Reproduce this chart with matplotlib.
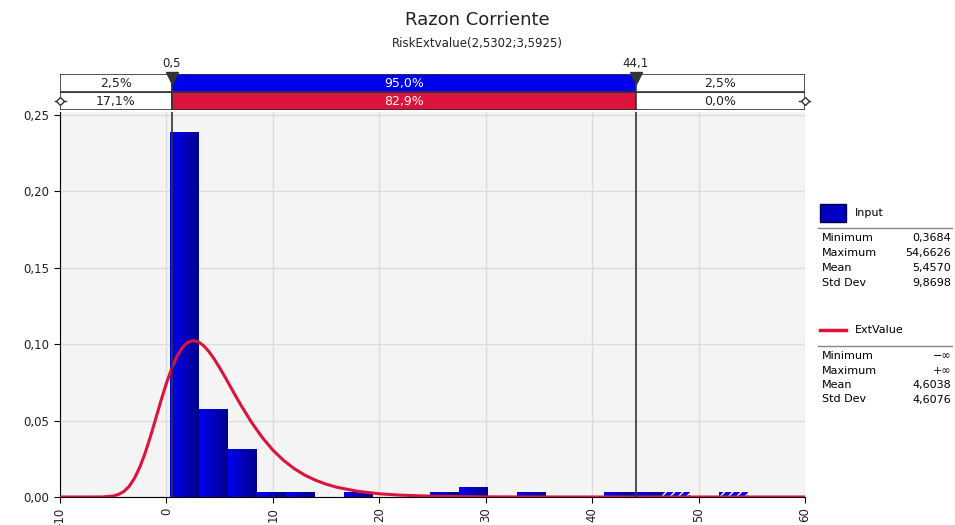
import numpy as np
import matplotlib.pyplot as plt
from matplotlib.patches import Rectangle
from matplotlib.lines import Line2D
from matplotlib.colors import LinearSegmentedColormap

# histogram of the input (density per bin)
bin_edges = [0.3684, 3.0831, 5.7978, 8.5125, 11.2272, 13.9419, 16.6566, 19.3713,
             22.0860, 24.8007, 27.5154, 30.2301, 32.9448, 35.6595, 38.3742,
             41.0889, 43.8036, 46.5183, 49.2330, 51.9477, 54.6626]
bin_density = [0.2386, 0.0576, 0.0316, 0.0035, 0.0035, 0.0, 0.0035, 0.0,
               0.0, 0.0035, 0.0068, 0.0, 0.0035, 0.0, 0.0,
               0.0035, 0.0035, 0.0035, 0.0, 0.0035]

# ExtValue curve
curve_x = [-10, -8, -7, -6, -5, -4.5, -4, -3.5, -3, -2.5, -2, -1.5, -1, -0.5, 0, 0.5,
           1, 1.5, 2, 2.5, 3, 3.5, 4, 4.5, 5, 5.5, 6, 6.5, 7, 8, 9,
           10, 11, 12, 13, 14, 15, 16, 18, 20, 22, 25, 30, 35, 40, 50, 60]
curve_y = [0.0, 0.0, 0.00001, 0.00006, 0.00066, 0.0017, 0.0036, 0.0070, 0.0123,
           0.0195, 0.0288, 0.0396, 0.0514, 0.0633, 0.0745, 0.0843, 0.0922, 0.0979,
           0.1012, 0.1024, 0.1016, 0.0990, 0.0951, 0.0902, 0.0846, 0.0786, 0.0724,
           0.0662, 0.0601, 0.0488, 0.0390, 0.0307, 0.0240, 0.0186, 0.0143, 0.0110,
           0.0084, 0.0064, 0.0037, 0.0021, 0.0012, 0.0005, 0.0001, 0.0, 0.0, 0.0, 0.0]

left_cut, right_cut = 0.5, 44.1
row1 = ['2,5%', '95,0%', '2,5%']
row2 = ['17,1%', '82,9%', '0,0%']
input_stats = [('Minimum', '0,3684'), ('Maximum', '54,6626'), ('Mean', '5,4570'), ('Std Dev', '9,8698')]
ext_stats = [('Minimum', '\u2212\u221e'), ('Maximum', '+\u221e'), ('Mean', '4,6038'), ('Std Dev', '4,6076')]

BLUE = '#0000ee'
RED = '#dc143c'
W, H = 955, 525

fig = plt.figure(figsize=(9.55, 5.25), dpi=100)
plt.rcParams['font.family'] = 'DejaVu Sans'

def px(x0, y0, x1, y1):
    return [x0 / W, 1 - y1 / H, (x1 - x0) / W, (y1 - y0) / H]

ax = fig.add_axes(px(60, 112, 805, 497))
ax.set_facecolor('#f4f4f4')
yt = np.arange(0, 0.26, 0.05)
xt = np.arange(-10, 61, 10)
ax.set_xticks(xt)
ax.set_yticks(yt)
ax.set_yticklabels([('%.2f' % v).replace('.', ',') for v in yt])
ax.set_xticklabels([str(int(v)) for v in xt], rotation=90, va='top')
ax.tick_params(labelsize=8.5, length=4, color='black', direction='out', labelcolor='#222222')
ax.grid(True, color='#dcdcdc', lw=1)
ax.set_axisbelow(True)
for s in ['top', 'right']:
    ax.spines[s].set_visible(False)

grad = np.linspace(0, 1, 50).reshape(1, -1)
cmap = LinearSegmentedColormap.from_list('bl', ['#0000f2', '#00008c'])
for i, d in enumerate(bin_density):
    if d <= 0:
        continue
    lo, hi = bin_edges[i], bin_edges[i + 1]
    if lo >= right_cut:
        ax.bar(lo, d, width=hi - lo, align='edge', color=BLUE, hatch='////',
               edgecolor='white', lw=0, zorder=2)
        continue
    b = ax.bar(lo, d, width=hi - lo, align='edge', color='none', lw=0, zorder=2)[0]
    im = ax.imshow(grad, extent=[lo, hi, 0, d], cmap=cmap, aspect='auto', zorder=2)
    im.set_clip_path(b)
ax.set_xlim(-10, 60)
ax.set_ylim(0, 0.252)

ax.plot(curve_x, curve_y, color=RED, lw=2.2, zorder=3)
for c in (left_cut, right_cut):
    ax.axvline(c, color='#333333', lw=1.2, zorder=4)

# header boxes
hx = fig.add_axes(px(60, 74, 805, 110))
hx.set_xlim(-10, 60)
hx.set_ylim(0, 2)
hx.axis('off')
segs = [(-10, left_cut), (left_cut, right_cut), (right_cut, 60)]
for row, (labels, mid) in enumerate([(row2, RED), (row1, BLUE)]):
    for j, (a, b) in enumerate(segs):
        fc = mid if j == 1 else 'white'
        hx.add_patch(Rectangle((a, row), b - a, 1, facecolor=fc, edgecolor='#333333', lw=1.2))
        hx.text((a + b) / 2, row + 0.5, labels[j], ha='center', va='center', fontsize=9,
                color='white' if j == 1 else '#222222')
for c, lab in [(left_cut, '0,5'), (right_cut, '44,1')]:
    hx.plot(c, 1.8, marker='v', color='#333333', ms=8, clip_on=False)
    hx.text(c, 2.25, lab, ha='center', va='bottom', fontsize=8.5, color='#222222')
hx.plot([-10.5, -9.4], [0.5, 0.5], color='#333333', lw=1, clip_on=False)
hx.plot(-10, 0.5, marker='D', ms=4, mfc='white', mec='#333333', clip_on=False)
hx.plot([59.4, 60.5], [0.5, 0.5], color='#333333', lw=1, clip_on=False)
hx.plot(60, 0.5, marker='D', ms=4, mfc='white', mec='#333333', clip_on=False)

fig.text(0.5, 1 - 20 / H, 'Razon Corriente', ha='center', va='center', fontsize=13, color='#222222')
fig.text(0.5, 1 - 43 / H, 'RiskExtvalue(2,5302;3,5925)', ha='center', va='center', fontsize=8.5, color='#222222')

# legend panel
fig.patches.append(Rectangle((820 / W, 1 - 222 / H), 26 / W, 18 / H, transform=fig.transFigure,
                             facecolor='#0000c0', edgecolor='#000044', lw=1))
fig.text(855 / W, 1 - 213 / H, 'Input', fontsize=8, va='center')
fig.lines.append(Line2D([818 / W, 952 / W], [1 - 228 / H] * 2, transform=fig.transFigure, color='#888888', lw=1))
for k, (lab, val) in enumerate(input_stats):
    y = 1 - (238 + 15 * k) / H
    fig.text(822 / W, y, lab, fontsize=8, va='center')
    fig.text(951 / W, y, val, fontsize=8, va='center', ha='right')
fig.lines.append(Line2D([820 / W, 846 / W], [1 - 330 / H] * 2, transform=fig.transFigure, color=RED, lw=2.5))
fig.text(855 / W, 1 - 330 / H, 'ExtValue', fontsize=8, va='center')
fig.lines.append(Line2D([818 / W, 952 / W], [1 - 346 / H] * 2, transform=fig.transFigure, color='#888888', lw=1))
for k, (lab, val) in enumerate(ext_stats):
    y = 1 - (356 + 14.5 * k) / H
    fig.text(822 / W, y, lab, fontsize=8, va='center')
    fig.text(951 / W, y, val, fontsize=8, va='center', ha='right')

fig.savefig('out.png', dpi=100)
